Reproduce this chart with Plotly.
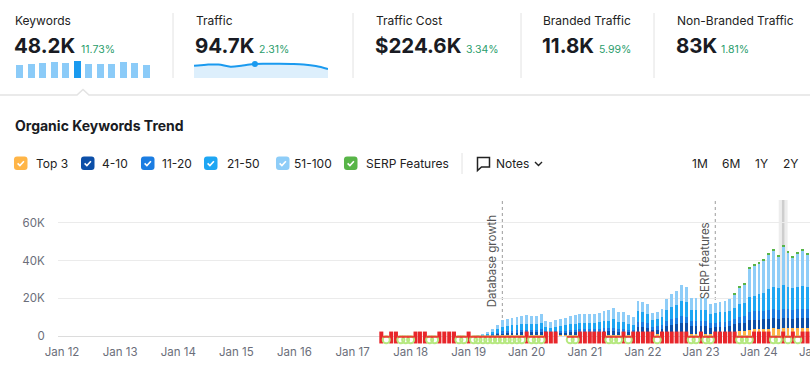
import plotly.graph_objects as go
import pandas as pd

W, H = 810, 365
FONT = "Inter, 'Noto Sans', sans-serif"

# ---------------- data ----------------
bar_months = pd.date_range("2019-03-01", "2024-12-01", freq="MS")
icon_months = pd.date_range("2017-07-01", "2024-12-01", freq="MS")

# values in thousands of keywords (2019-03 .. 2024-12)
top3 = [0.0, 0.1, 0.1, 0.2, 0.3, 0.4, 0.5, 0.5, 0.5, 0.5,
        0.6, 0.5, 0.5, 0.6, 0.4, 0.4, 0.4, 0.5, 0.5, 0.5, 0.6, 0.6,
        0.6, 0.6, 0.6, 0.6, 0.7, 0.7, 0.7, 0.6, 0.6, 0.6, 0.5, 1.1,
        1.1, 1.0, 0.7, 0.8, 0.9, 1.2, 1.3, 1.4, 1.6, 1.5, 1.2, 1.2,
        1.2, 1.2, 1.0, 1.1, 1.1, 1.1, 1.5, 2.2, 2.6, 2.8, 3.4, 3.5,
        3.6, 3.7, 3.9, 4.0, 3.9, 4.2, 4.1, 4.0, 4.0, 4.1, 4.0, 4.1]
pos4_10 = [0.1, 0.1, 0.3, 0.5, 0.8, 1.1, 1.2, 1.2, 1.3, 1.4,
           1.4, 1.4, 1.4, 1.5, 1.0, 0.9, 1.1, 1.2, 1.2, 1.4, 1.4, 1.5,
           1.5, 1.5, 1.5, 1.6, 1.7, 1.8, 1.9, 1.6, 1.6, 1.4, 1.3, 3.7,
           3.6, 3.4, 2.4, 2.6, 2.9, 4.0, 4.4, 4.8, 5.4, 5.2, 4.0, 4.0,
           4.0, 4.0, 3.4, 3.5, 3.6, 3.7, 3.6, 4.0, 4.2, 4.3, 4.9, 5.0,
           5.0, 5.1, 5.3, 5.4, 5.3, 5.4, 5.3, 5.2, 5.3, 5.4, 5.3, 5.3]
pos11_20 = [0.1, 0.1, 0.2, 0.4, 0.7, 1.0, 1.1, 1.1, 1.2, 1.3,
            1.3, 1.3, 1.3, 1.4, 1.0, 0.9, 1.0, 1.1, 1.1, 1.3, 1.3, 1.4,
            1.4, 1.4, 1.4, 1.5, 1.6, 1.6, 1.8, 1.5, 1.5, 1.3, 1.2, 2.6,
            2.5, 2.4, 1.7, 1.8, 2.0, 2.8, 3.1, 3.3, 3.8, 3.6, 2.8, 2.8,
            2.8, 2.8, 2.4, 2.5, 2.5, 2.6, 2.6, 3.0, 3.4, 3.6, 4.4, 4.5,
            4.6, 4.7, 4.8, 4.9, 4.8, 4.9, 4.8, 4.7, 4.8, 4.9, 4.8, 4.8]
pos21_50 = [0.1, 0.3, 0.6, 1.1, 1.7, 2.5, 2.7, 2.8, 2.9, 3.1,
            3.3, 3.2, 3.1, 3.5, 2.4, 2.2, 2.5, 2.7, 2.8, 3.1, 3.3, 3.6,
            3.6, 3.5, 3.6, 3.7, 4.0, 4.1, 4.4, 3.8, 3.8, 3.3, 3.0, 5.6,
            5.4, 5.1, 3.7, 3.9, 4.3, 5.9, 6.6, 7.1, 8.0, 7.7, 6.0, 6.0,
            6.0, 6.0, 5.1, 5.3, 5.4, 5.5, 5.7, 5.8, 6.6, 6.9, 8.0, 8.4,
            8.8, 9.4, 11.0, 11.8, 11.5, 12.3, 12.0, 11.6, 11.8, 12.0, 11.7, 11.8]
pos51_100 = [0.2, 0.4, 0.8, 1.5, 2.3, 3.4, 3.5, 3.7, 3.9, 4.2,
             4.4, 4.3, 4.2, 4.6, 3.1, 2.8, 3.4, 3.6, 3.7, 4.2, 4.4, 4.8,
             4.8, 4.6, 4.8, 4.9, 5.3, 5.4, 5.8, 5.0, 5.0, 4.5, 4.0, 5.7,
             5.4, 5.0, 3.7, 3.8, 4.2, 5.9, 6.6, 7.2, 8.0, 7.8, 6.0, 6.0,
             6.0, 6.0, 5.1, 5.2, 5.4, 5.4, 6.4, 6.9, 9.0, 9.5, 15.2, 15.9,
             16.2, 16.9, 18.1, 19.0, 16.6, 20.5, 18.0, 16.2, 17.6, 18.9, 17.4, 18.2]
serp = [0, 0, 0, 0, 0, 0, 0, 0, 0, 0,
        0, 0, 0, 0, 0, 0, 0, 0, 0, 0, 0, 0,
        0, 0, 0, 0, 0, 0, 0, 0, 0, 0, 0, 0,
        0, 0, 0, 0, 0, 0, 0, 0, 0, 0, 0, 0,
        0, 0, 0, 0, 0, 0, 0, 0.7, 0.7, 0.8, 0.8, 0.8,
        0.8, 0.8, 0.9, 0.9, 0.8, 0.9, 0.8, 0.8, 0.8, 0.9, 0.8, 0.8]

series_names = ["Top 3", "4-10", "11-20", "21-50", "51-100", "SERP Features"]
series_colors = ["#FFB547", "#0C4FA8", "#1B7DE2", "#1EA6F3", "#8ECDF8", "#58B548"]
series_values = [top3, pos4_10, pos11_20, pos21_50, pos51_100, serp]

# F = flag (SERP feature change), G = Google update, . = none   (2017-07 .. 2024-12)
icon_codes = list("FGFFGG" + "GFFFGGFFFFGG" + "FGGGGGGGGGGG" + "FGGGFFF..GGF"
                  + "FFFFFGGGFGFF" + "FFFGFFFFFFGG" + "FGGFFFFFGGGF" + "FFFGGFGFGFFG")

notes = [("2019-08-01", "Database growth"), ("2023-04-01", "SERP features")]
highlight_month = "2024-06-01"

y_ticks = [0, 20, 40, 60]
y_tick_labels = ["0", "20K", "40K", "60K"]

kpis = [("Keywords", "48.2K", "11.73%"), ("Traffic", "94.7K", "2.31%"),
        ("Traffic Cost", "$224.6K", "3.34%"), ("Branded Traffic", "11.8K", "5.99%"),
        ("Non-Branded Traffic", "83K", "1.81%")]
keyword_spark = [35.2, 39.9, 42.7, 44.3, 42.7, 48.2, 39.9, 39.9, 39.9, 44.3, 42.7, 35.2]
traffic_spark = [83.2, 89.9, 91.3, 76.4, 84.5, 94.7, 96.0, 96.0, 94.7, 91.3, 81.1, 60.9]
spark_highlight = 5

periods = ["1M", "6M", "1Y", "2Y"]

# ---------------- helpers (pixel -> paper) ----------------
def px(x):
    return x / W

def py(y):
    return 1 - y / H

def ppath(points, close=False):
    s = "M " + " L ".join(f"{px(x):.5f},{py(y):.5f}" for x, y in points)
    return s + (" Z" if close else "")

def rounded_box(x0, y0, x1, y1, r):
    def P(x, y):
        return f"{px(x):.5f},{py(y):.5f}"
    return (f"M {P(x0 + r, y0)} L {P(x1 - r, y0)} Q {P(x1, y0)} {P(x1, y0 + r)} "
            f"L {P(x1, y1 - r)} Q {P(x1, y1)} {P(x1 - r, y1)} L {P(x0 + r, y1)} "
            f"Q {P(x0, y1)} {P(x0, y1 - r)} L {P(x0, y0 + r)} Q {P(x0, y0)} {P(x0 + r, y0)} Z")

annotations = []
shapes = []

def txt(x, y, s, size, color, bold=False, anchor="left", **kw):
    annotations.append(dict(xref="paper", yref="paper", x=px(x), y=py(y),
                            text=f"<b>{s}</b>" if bold else s, showarrow=False,
                            xanchor=anchor, yanchor="middle", borderpad=0,
                            font=dict(family=FONT, size=size, color=color), **kw))

# ---------------- main chart geometry ----------------
X_LEFT_PX, X_RIGHT_PX = 58, 810
Y_TOP_PX, Y_BOT_PX = 200, 343
jan12 = pd.Timestamp("2012-01-01")
jan24 = pd.Timestamp("2024-01-01")
JAN12_PX, JAN24_PX = 62, 759
per_px = (jan24 - jan12) / (JAN24_PX - JAN12_PX)
x0 = jan12 - per_px * (JAN12_PX - X_LEFT_PX)
x1 = jan12 + per_px * (X_RIGHT_PX - JAN12_PX)
ZERO_PX, SIXTY_PX = 336, 222.7
k_per_px = 60 / (ZERO_PX - SIXTY_PX)
y_min = -(Y_BOT_PX - ZERO_PX) * k_per_px
y_max = (ZERO_PX - Y_TOP_PX) * k_per_px

fig = go.Figure()

for name, color, vals in zip(series_names, series_colors, series_values):
    fig.add_trace(go.Bar(x=bar_months, y=vals, name=name, marker=dict(color=color, line=dict(width=0)),
                         hoverinfo="skip", showlegend=False, xaxis="x", yaxis="y"))

flag_x = [m for m, c in zip(icon_months, icon_codes) if c == "F"]
goog_x = [m for m, c in zip(icon_months, icon_codes) if c == "G"]
fig.add_trace(go.Scatter(x=flag_x, y=[-0.8] * len(flag_x), mode="markers", cliponaxis=False,
                         marker=dict(symbol="line-ns", size=8.5, line=dict(width=4, color="#E8262B")),
                         hoverinfo="skip", showlegend=False))
fig.add_trace(go.Scatter(x=goog_x, y=[-2.0] * len(goog_x), mode="markers", cliponaxis=False,
                         marker=dict(symbol="circle-open", size=7, line=dict(width=2, color="#34A853")),
                         hoverinfo="skip", showlegend=False))
fig.add_trace(go.Scatter(x=goog_x, y=[-0.4] * len(goog_x), mode="markers", cliponaxis=False,
                         marker=dict(symbol="line-ew", size=5, line=dict(width=2, color="#EA4335")),
                         hoverinfo="skip", showlegend=False))

# notes (dashed lines + rotated labels)
for d, label in notes:
    shapes.append(dict(type="line", xref="x", yref="y", x0=d, x1=d, y0=0, y1=y_max, layer="below",
                       line=dict(color="#9c9c9c", width=1, dash="3px,3px")))
    annotations.append(dict(xref="x", yref="paper", x=d, y=py(261), xshift=-10, text=label,
                            textangle=-90, showarrow=False, xanchor="center", yanchor="middle",
                            font=dict(family=FONT, size=11.5, color="#555")))

# hover column highlight
hm = pd.Timestamp(highlight_month)
shapes.append(dict(type="rect", xref="x", yref="y", x0=hm - pd.Timedelta(days=28), x1=hm + pd.Timedelta(days=28),
                   y0=0, y1=y_max, layer="below", fillcolor="rgba(0,0,0,0.07)", line=dict(width=0)))
shapes.append(dict(type="line", xref="x", yref="y", x0=hm, x1=hm, y0=0, y1=y_max, layer="below",
                   line=dict(color="rgba(0,0,0,0.13)", width=2.5)))

# partial "Jan 25" tick label at the clipped right edge (the reference crops it too)
jan25 = pd.Timestamp("2025-01-01")
dom0 = px(X_LEFT_PX)
frac = dom0 + (jan25 - x0) / (x1 - x0) * (1 - dom0)
annotations.append(dict(xref="paper", yref="paper", x=frac, y=py(352), text="Jan 25", showarrow=False,
                        xanchor="center", yanchor="middle", font=dict(family=FONT, size=11.5, color="#6b6e7a")))

# ---------------- KPI header ----------------
kpi_x = [14, 195, 375, 542, 676]
pct_x = [80, 258, 465, 598, 720]
for (label, value, pct), kx, pxx in zip(kpis, kpi_x, pct_x):
    txt(kx, 21, label, 12, "#222")
    txt(kx - 1, 45, value, 20.5, "#191b23", bold=True)
    txt(pxx, 49, pct, 10.5, "#2a9d6c")
for sx in [173, 353, 521, 654]:
    shapes.append(dict(type="line", xref="paper", yref="paper", x0=px(sx), x1=px(sx), y0=py(13), y1=py(78),
                       line=dict(color="#e2e2e2", width=1)))

# keyword mini bars
fig.add_trace(go.Bar(x=list(range(len(keyword_spark))), y=keyword_spark, xaxis="x2", yaxis="y2",
                     marker=dict(color=["#1A9AEF" if i == spark_highlight else "#8BCBF8"
                                        for i in range(len(keyword_spark))], line=dict(width=0)),
                     hoverinfo="skip", showlegend=False))
# traffic sparkline
fig.add_trace(go.Scatter(x=list(range(len(traffic_spark))), y=traffic_spark, xaxis="x3", yaxis="y3",
                         mode="lines", line=dict(color="#1A9AEF", width=2, shape="spline"),
                         fill="tozeroy", fillcolor="#DDEFFC", hoverinfo="skip", showlegend=False))
fig.add_trace(go.Scatter(x=[spark_highlight], y=[traffic_spark[spark_highlight]], xaxis="x3", yaxis="y3",
                         mode="markers", marker=dict(size=6, color="#1A9AEF"), cliponaxis=False,
                         hoverinfo="skip", showlegend=False))

# divider with caret
shapes.append(dict(type="path", xref="paper", yref="paper",
                   path=ppath([(0, 95), (77, 95), (83, 89.5), (89, 95), (810, 95)]),
                   line=dict(color="#e3e3e3", width=1.5)))

# ---------------- title + legend row ----------------
txt(14, 125, "Organic Keywords Trend", 14, "#191b23", bold=True)
box_x = [14, 81, 141, 204, 276, 344]
lab_x = [35, 101, 161, 226, 293, 365]
for name, color, bx, lx in zip(series_names, series_colors, box_x, lab_x):
    shapes.append(dict(type="path", xref="paper", yref="paper", path=rounded_box(bx, 156.5, bx + 13.5, 170, 3),
                       fillcolor=color, line=dict(width=0)))
    shapes.append(dict(type="path", xref="paper", yref="paper",
                       path=ppath([(bx + 3.6, 163.4), (bx + 5.9, 165.6), (bx + 9.9, 161.2)]),
                       line=dict(color="white", width=1.6)))
    txt(lx, 163.5, name, 12, "#222")

shapes.append(dict(type="line", xref="paper", yref="paper", x0=px(462), x1=px(462), y0=py(153), y1=py(174),
                   line=dict(color="#e2e2e2", width=1)))
shapes.append(dict(type="path", xref="paper", yref="paper",
                   path=ppath([(477.5, 157.5), (489.5, 157.5), (489.5, 167), (481.5, 167), (477.5, 170.5)], close=True),
                   line=dict(color="#222", width=1.5)))
txt(495, 163.5, "Notes", 12, "#222")
shapes.append(dict(type="path", xref="paper", yref="paper",
                   path=ppath([(535, 162), (538.5, 165.5), (542, 162)]), line=dict(color="#222", width=1.4)))
for p, cx in zip(periods, [699.5, 730.5, 761, 790]):
    txt(cx, 163.5, p, 12, "#222", anchor="center")

# ---------------- layout ----------------
fig.update_layout(
    width=W, height=H, margin=dict(l=0, r=0, t=0, b=0),
    paper_bgcolor="white", plot_bgcolor="white",
    barmode="stack", bargap=0.35, showlegend=False,
    font=dict(family=FONT),
    xaxis=dict(domain=[px(X_LEFT_PX), 1], type="date", range=[x0, x1], tick0="2012-01-01", dtick="M12",
               tickformat="%b %y", showgrid=False, zeroline=False, showline=False, ticks="",
               tickfont=dict(family=FONT, size=11.5, color="#6b6e7a"), automargin=False, fixedrange=True),
    yaxis=dict(domain=[py(Y_BOT_PX), py(Y_TOP_PX)], range=[y_min, y_max], tickvals=y_ticks,
               ticktext=y_tick_labels, showgrid=True, gridcolor="#ebebeb", gridwidth=1,
               zeroline=True, zerolinecolor="#dcdcdc", zerolinewidth=1, showline=False,
               ticks="outside", ticklen=10, tickcolor="rgba(0,0,0,0)",
               tickfont=dict(family=FONT, size=11.5, color="#6b6e7a"), automargin=False, fixedrange=True),
    xaxis2=dict(domain=[px(14), px(152)], range=[-0.5, len(keyword_spark) - 0.5], visible=False,
                anchor="y2", automargin=False),
    yaxis2=dict(domain=[py(78), py(58)], range=[0, max(keyword_spark) * 20 / 17.4], visible=False,
                anchor="x2", automargin=False),
    xaxis3=dict(domain=[px(194), px(328)], range=[0, len(traffic_spark) - 1], visible=False,
                anchor="y3", automargin=False),
    yaxis3=dict(domain=[py(78), py(58)], range=[0, max(traffic_spark) * 20 / 14.2], visible=False,
                anchor="x3", automargin=False),
    annotations=annotations, shapes=shapes,
)

fig.write_html("out.html", config={"displayModeBar": False})
